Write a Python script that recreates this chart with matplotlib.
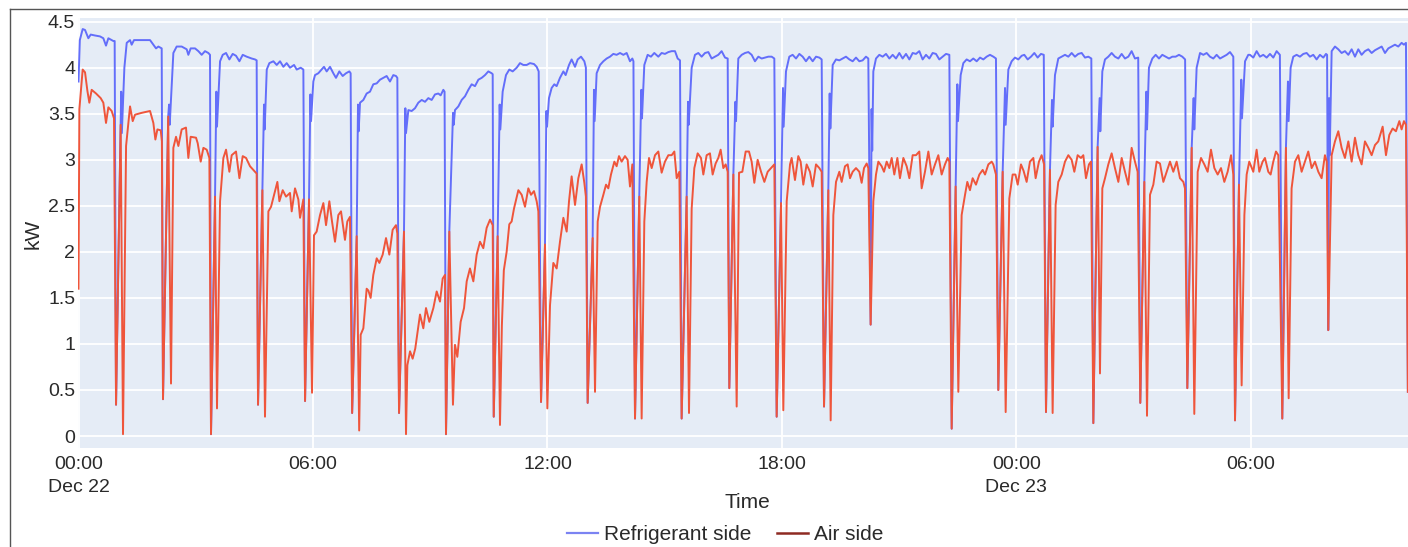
import matplotlib
matplotlib.use("Agg")
import matplotlib.pyplot as plt
from matplotlib.lines import Line2D

plt.rcParams['font.family'] = ['Liberation Sans', 'DejaVu Sans']

# minutes after Dec 22 00:00, kW
ref_pts = [
    (0, 3.85), (2, 4.3), (6.4, 4.42), (10, 4.41), (15.1, 4.32), (18.7, 4.36), (25.3, 4.35), (33, 4.34), (38.1, 4.32), (42.2, 4.24), (45.8, 4.32), (53.5, 4.29), (55.5, 4.29),
    (57.6, 0.34), (64.7, 3.38), (65.5, 3.74), (66.5, 3.29), (70.4, 4.0), (74, 4.27), (79.1, 4.3), (81.6, 4.25), (85.2, 4.3), (109.8, 4.3), (114.9, 4.25), (119, 4.21), (122.6, 4.23), (127.7, 4.21),
    (129.7, 0.4), (137.7, 3.47), (139, 3.6), (140, 3.38), (145.6, 4.16), (150.7, 4.23), (158.4, 4.23), (166.1, 4.2), (168.6, 4.14), (172.2, 4.21), (178.9, 4.21), (184, 4.18), (189.1, 4.14), (194.2, 4.18), (199.3, 4.16), (201.9, 4.14),
    (203.4, 0.02), (209.6, 2.6), (211.6, 3.74), (212.6, 3.36), (217.3, 4.07), (221.4, 4.14), (226.5, 4.16), (231.6, 4.09), (236.7, 4.15), (241.8, 4.13), (247, 4.07), (252.1, 4.14), (258.2, 4.12), (265.9, 4.1), (271, 4.09), (273.5, 4.08),
    (275.6, 0.34), (282.3, 2.67), (284.8, 3.6), (285.8, 3.33), (289, 3.98), (293, 4.05), (299.2, 4.07), (304.3, 4.03), (309.4, 4.07), (314.5, 4.01), (319.6, 4.05), (324.7, 4.0), (330.9, 4.03), (335, 3.98), (341.1, 4.0), (345.2, 3.98),
    (347.8, 0.38), (353.9, 2.57), (356, 3.71), (357, 3.42), (360.5, 3.85), (363.1, 3.92), (368.2, 3.94), (373.3, 3.98), (376.9, 4.01), (381, 3.96), (386.1, 4.01), (391.2, 3.94), (395.3, 3.89), (400.4, 3.96), (405.6, 3.91), (410.7, 3.94), (415.8, 3.96), (417.8, 3.94),
    (420.1, 0.25), (427.1, 2.17), (429.1, 3.6), (430.1, 3.31), (432.2, 3.62), (437.3, 3.65), (442.4, 3.72), (447.5, 3.74), (452.6, 3.82), (457.8, 3.83), (462.9, 3.87), (468, 3.89), (473.1, 3.91), (478.2, 3.85), (483.3, 3.92), (487.4, 3.91), (489.5, 3.89),
    (492.1, 0.25), (499.7, 2.22), (501.8, 3.56), (502.8, 3.29), (506.4, 3.54), (511.5, 3.53), (516.6, 3.56), (521.7, 3.62), (526.9, 3.65), (532, 3.63), (537.1, 3.67), (542.2, 3.65), (547.3, 3.71), (552.4, 3.72), (556, 3.7), (560.1, 3.76), (562, 3.74),
    (564.2, 0.02), (569.3, 2.22), (575, 3.51), (576, 3.38), (578, 3.54), (583.2, 3.58), (588.3, 3.65), (593.4, 3.69), (598.5, 3.76), (603.6, 3.82), (608.7, 3.8), (613.9, 3.87), (619, 3.89), (624.1, 3.92), (629.2, 3.96), (634.3, 3.94), (635.9, 3.93),
    (637.5, 0.21), (643.5, 2.17), (646.6, 3.6), (647.6, 3.33), (651.2, 3.74), (656.3, 3.92), (661.4, 3.98), (666.6, 3.96), (672.7, 4.0), (677.8, 4.05), (682.9, 4.03), (688.1, 4.03), (693.2, 4.05), (699.3, 4.04), (703.4, 4.01), (706.5, 3.96),
    (710.1, 0.37), (716.2, 2.08), (718.3, 3.53), (719.3, 3.36), (722.3, 3.67), (726.4, 3.78), (730.5, 3.82), (734.1, 3.8), (739.2, 3.89), (744.4, 3.96), (747.9, 3.92), (753.1, 4.03), (757.1, 4.09), (762.3, 4.01), (766.4, 4.09), (771.5, 4.12), (776.6, 4.07), (779, 4.0),
    (781.7, 0.36), (789.4, 2.15), (791.4, 3.76), (792.4, 3.42), (795.5, 3.94), (800.7, 4.03), (805.8, 4.07), (810.9, 4.1), (816, 4.12), (821.1, 4.15), (826.2, 4.14), (831.4, 4.16), (836.5, 4.14), (841.6, 4.16), (846.7, 4.07), (850.3, 4.1), (852, 4.07),
    (854.4, 0.19), (861, 2.6), (864.1, 3.76), (865.1, 3.45), (868.7, 4.03), (873.8, 4.14), (878.9, 4.12), (884, 4.16), (890.2, 4.12), (895.3, 4.16), (900.4, 4.15), (905.6, 4.17), (910.7, 4.18), (915.8, 4.18), (919.9, 4.1), (923.5, 4.08),
    (926, 0.19), (933.7, 2.6), (935.8, 3.63), (936.8, 3.38), (941.4, 4.0), (946.5, 4.14), (951.6, 4.16), (956.7, 4.12), (961.9, 4.16), (967, 4.17), (972.1, 4.1), (977.2, 4.12), (982.3, 4.14), (987.4, 4.18), (992.6, 4.11), (996.7, 4.1),
    (999.2, 0.52), (1005.4, 2.84), (1008.5, 3.63), (1009.5, 3.42), (1013, 4.1), (1018.2, 4.14), (1023.3, 4.16), (1028.4, 4.17), (1033.5, 4.14), (1038.6, 4.07), (1043.8, 4.12), (1048.9, 4.1), (1054, 4.11), (1059.1, 4.12), (1064.2, 4.12), (1068.3, 4.1),
    (1071.9, 0.21), (1078.6, 2.53), (1081.6, 3.78), (1082.6, 3.36), (1086.2, 3.96), (1091.3, 4.12), (1096.4, 4.14), (1101.6, 4.1), (1106.7, 4.15), (1111.8, 4.12), (1116.9, 4.07), (1122, 4.12), (1127.2, 4.07), (1132.3, 4.12), (1137.4, 4.11), (1141, 4.09),
    (1144.6, 0.32), (1151.2, 2.67), (1153.3, 3.72), (1154.3, 3.34), (1157.9, 4.03), (1163, 4.09), (1168.1, 4.08), (1173.2, 4.1), (1178.3, 4.12), (1183.5, 4.09), (1188.6, 4.07), (1193.7, 4.11), (1198.8, 4.07), (1203.9, 4.08), (1209, 4.12), (1212.6, 4.1),
    (1216.2, 1.21), (1217.6, 3.55), (1218.6, 3.1), (1220.3, 3.96), (1224.4, 4.1), (1229.5, 4.14), (1234.6, 4.12), (1239.8, 4.15), (1244.9, 4.1), (1250, 4.14), (1255.1, 4.1), (1260.2, 4.16), (1265.3, 4.1), (1270.5, 4.15), (1275.6, 4.09), (1280.7, 4.16), (1285.8, 4.15), (1290.9, 4.18), (1296, 4.09), (1301.2, 4.14), (1306.3, 4.1), (1311.4, 4.16), (1316.5, 4.15), (1321.6, 4.09), (1326.8, 4.12), (1331.9, 4.15), (1337, 4.14),
    (1340.6, 0.08), (1346.7, 2.71), (1349.3, 3.82), (1350.3, 3.42), (1354.4, 3.92), (1358.5, 4.05), (1363.6, 4.09), (1368.7, 4.07), (1373.8, 4.1), (1379, 4.07), (1384.1, 4.11), (1389.2, 4.09), (1394.3, 4.12), (1399.4, 4.14), (1404.6, 4.12), (1408.6, 4.1),
    (1412.2, 0.5), (1418.9, 2.87), (1422.5, 3.78), (1423.5, 3.38), (1427.6, 3.98), (1432.7, 4.07), (1437.8, 4.11), (1442.9, 4.09), (1448.1, 4.13), (1452.1, 4.14), (1457.3, 4.09), (1462.4, 4.12), (1467.5, 4.16), (1472.6, 4.11), (1477.7, 4.15), (1482, 4.14),
    (1485.4, 0.26), (1491.5, 2.89), (1494.6, 3.65), (1495.6, 3.36), (1499.2, 3.92), (1504.3, 4.1), (1509.5, 4.12), (1514.6, 4.14), (1519.7, 4.12), (1524.8, 4.16), (1529.9, 4.12), (1535, 4.15), (1540.2, 4.16), (1545.3, 4.11), (1550.4, 4.12), (1555, 4.1),
    (1558.1, 0.14), (1564.7, 3.14), (1567.8, 3.67), (1568.8, 3.31), (1571.9, 3.96), (1576, 4.09), (1581.1, 4.12), (1586.2, 4.16), (1591.3, 4.12), (1596.5, 4.1), (1601.6, 4.15), (1606.7, 4.1), (1611.8, 4.12), (1616.9, 4.18), (1622, 4.1), (1627, 4.11),
    (1630.2, 0.36), (1636.4, 2.76), (1639.5, 3.74), (1640.5, 3.33), (1643.5, 4.0), (1648.7, 4.1), (1653.8, 4.14), (1658.9, 4.1), (1664, 4.14), (1669.1, 4.12), (1674.3, 4.1), (1679.4, 4.12), (1684.5, 4.12), (1689.6, 4.14), (1694.7, 4.12), (1699, 4.09),
    (1702.4, 0.52), (1709.1, 3.13), (1712.1, 3.67), (1713.1, 3.33), (1716.7, 4.0), (1721.9, 4.16), (1727, 4.14), (1732.1, 4.16), (1737.2, 4.12), (1742.3, 4.1), (1747.4, 4.14), (1752.6, 4.1), (1757.7, 4.12), (1762.8, 4.14), (1767.9, 4.17), (1773, 4.12),
    (1775.6, 0.17), (1781.7, 2.73), (1785.3, 3.87), (1786.3, 3.45), (1791, 4.07), (1796, 4.14), (1798.6, 4.14), (1803.7, 4.11), (1808.8, 4.18), (1813.9, 4.12), (1819, 4.14), (1824.2, 4.11), (1829.3, 4.15), (1834.4, 4.11), (1839.5, 4.18), (1844.5, 4.14),
    (1848.2, 0.19), (1853.8, 3.13), (1856.9, 3.85), (1857.9, 3.42), (1861, 4.0), (1865.1, 4.12), (1870.2, 4.14), (1875.3, 4.12), (1880.5, 4.15), (1885.6, 4.16), (1890.7, 4.12), (1895.8, 4.14), (1900.9, 4.09), (1906, 4.14), (1911.2, 4.11), (1915.3, 4.15), (1917, 4.14),
    (1918.8, 1.15), (1920, 3.67), (1921, 3.05), (1924, 4.18), (1929.1, 4.23), (1934.2, 4.2), (1939.3, 4.16), (1944.4, 4.18), (1949.6, 4.14), (1954.7, 4.2), (1959.8, 4.12), (1964.9, 4.2), (1970, 4.14), (1975.1, 4.18), (1980.3, 4.2), (1985.4, 4.16), (1990.5, 4.19), (1995.6, 4.21), (2000.8, 4.23), (2005.9, 4.16), (2011, 4.21), (2016.1, 4.23), (2021.2, 4.25), (2026.3, 4.23), (2031.4, 4.27), (2035, 4.25), (2038.1, 4.27),
    (2041, 0.48),
]

air_pts = [
    (0, 1.6), (1.3, 3.55), (6.4, 3.98), (10, 3.95), (13.6, 3.75), (16.6, 3.62), (20.2, 3.76), (26.9, 3.72), (34, 3.67), (38.1, 3.62), (42.2, 3.4), (45.8, 3.57), (50.9, 3.53), (54.5, 3.45),
    (57.6, 0.34), (64.7, 3.38), (68.3, 0.02), (73, 3.15), (79.1, 3.58), (83.2, 3.42), (86.8, 3.49), (97, 3.51), (109.8, 3.53), (114.9, 3.4), (118, 3.22), (121.1, 3.33), (126.2, 3.32), (128, 3.2),
    (129.7, 0.4), (137.7, 3.47), (142, 0.57), (145.6, 3.13), (149.7, 3.25), (153.3, 3.15), (158.4, 3.33), (165, 3.35), (168.6, 3.02), (172.2, 3.25), (180.4, 3.24), (183, 3.18), (187.6, 2.98), (191.7, 3.13), (196.8, 3.11), (200.9, 3.02),
    (203.4, 0.02), (209.6, 2.6), (212.6, 0.3), (217.3, 2.55), (222.4, 3.02), (226.5, 3.11), (231.6, 2.87), (235.2, 3.05), (241.8, 3.09), (247, 2.8), (252.1, 3.04), (257.2, 3.02), (263.3, 2.93), (271, 2.87), (273.5, 2.85),
    (275.6, 0.34), (282.3, 2.67), (286.3, 0.21), (291.5, 2.44), (295.6, 2.49), (300.2, 2.62), (305.3, 2.76), (308.4, 2.55), (313.5, 2.67), (318.6, 2.6), (324.7, 2.64), (327.3, 2.44), (332.4, 2.69), (337.5, 2.57), (340.1, 2.37), (345.2, 2.57),
    (347.8, 0.38), (353.9, 2.57), (358.5, 0.47), (361.5, 2.18), (365.6, 2.22), (370.8, 2.4), (375.9, 2.53), (380, 2.29), (385.1, 2.55), (389.2, 2.33), (393.8, 2.11), (398.9, 2.4), (403, 2.44), (409.1, 2.13), (412.7, 2.33), (416.8, 2.38),
    (420.1, 0.25), (427.1, 2.17), (430.9, 0.06), (433.2, 1.1), (437.3, 1.17), (442.4, 1.6), (445, 1.58), (448.5, 1.5), (452.6, 1.75), (457.8, 1.93), (461.9, 1.88), (467, 1.97), (472.1, 2.15), (477.2, 1.97), (482.3, 2.24), (487.4, 2.29), (489.5, 2.2),
    (492.1, 0.25), (499.7, 2.22), (502.8, 0.02), (504.9, 0.77), (509, 0.92), (513, 0.84), (517, 0.95), (524.3, 1.32), (529.4, 1.17), (533.5, 1.39), (538.6, 1.24), (544.8, 1.39), (549.9, 1.57), (555, 1.46), (559.1, 1.71), (562.7, 1.75),
    (564.2, 0.02), (569.3, 2.22), (574.9, 0.34), (578, 0.99), (581.6, 0.86), (586.7, 1.24), (591.9, 1.39), (596, 1.68), (601, 1.82), (606.2, 1.68), (611.3, 1.97), (616.4, 2.11), (621.5, 2.04), (626.6, 2.26), (631.8, 2.35), (635.9, 2.29),
    (637.5, 0.21), (643.5, 2.17), (647.1, 0.12), (650, 1.2), (653, 1.8), (657.3, 2.0), (661.4, 2.3), (665, 2.33), (668.6, 2.47), (675.3, 2.67), (680.4, 2.62), (685.5, 2.49), (690.6, 2.69), (694.7, 2.62), (699.3, 2.66), (703.4, 2.55), (706, 2.44),
    (710.1, 0.37), (716.2, 2.08), (719.8, 0.3), (723.9, 1.42), (729, 1.88), (734.1, 1.82), (739.2, 2.11), (744.4, 2.37), (749.5, 2.22), (753.1, 2.55), (757.1, 2.82), (762.3, 2.51), (767.4, 2.8), (772.5, 2.95), (776.6, 2.75), (779, 2.6),
    (781.7, 0.36), (789.4, 2.15), (793, 0.48), (797.1, 2.33), (800.7, 2.49), (805.8, 2.62), (809.9, 2.73), (813.4, 2.69), (817.5, 2.84), (822.7, 2.98), (826.2, 2.93), (829.8, 3.04), (833.9, 2.98), (839, 3.04), (843.1, 3.0), (846.7, 2.71), (850.3, 2.95),
    (854.4, 0.19), (861, 2.6), (864.6, 0.19), (868.7, 2.33), (872.3, 2.76), (875.9, 3.02), (880, 2.91), (885.1, 3.05), (890.2, 3.09), (895.3, 2.86), (900.4, 2.98), (905.6, 3.05), (910.7, 3.05), (914.8, 3.09), (918.4, 2.8), (922.5, 2.87),
    (926, 0.19), (933.7, 2.6), (937.3, 0.25), (941.4, 2.47), (945.5, 2.91), (950.6, 3.07), (955.7, 3.02), (959.3, 2.84), (964.4, 3.05), (969.5, 3.07), (973.6, 2.84), (978.2, 2.96), (982.3, 3.02), (985.9, 3.11), (990, 2.91), (993.6, 2.95), (996.7, 2.87),
    (999.2, 0.52), (1005.4, 2.84), (1010.5, 0.32), (1014.1, 2.86), (1019.2, 2.87), (1024.3, 3.09), (1029.4, 3.09), (1033.5, 2.98), (1037.6, 2.75), (1042.7, 3.0), (1047.9, 2.87), (1053, 2.76), (1058.1, 2.87), (1063.2, 2.91), (1068.3, 2.95),
    (1071.9, 0.21), (1078.6, 2.53), (1082.1, 0.28), (1087.3, 2.55), (1092.4, 2.95), (1094.9, 3.02), (1100, 2.78), (1105.1, 3.04), (1108.7, 2.98), (1112.8, 2.73), (1117.9, 2.95), (1123, 2.87), (1127.2, 2.71), (1132.3, 2.95), (1137.4, 2.91), (1141, 2.87),
    (1144.6, 0.32), (1151.2, 2.67), (1154.8, 0.17), (1158.9, 2.4), (1163, 2.76), (1168.1, 2.87), (1171.7, 2.76), (1176.8, 2.93), (1180.9, 2.95), (1184.5, 2.8), (1188.6, 2.87), (1193.7, 2.91), (1198.8, 2.87), (1202.4, 2.75), (1206, 2.91), (1210.1, 2.96), (1212.6, 2.91),
    (1216.2, 1.21), (1220.3, 2.55), (1224.4, 2.84), (1228, 2.98), (1233.1, 2.93), (1236.7, 2.87), (1240.8, 2.98), (1244.9, 2.91), (1248.5, 3.02), (1252.5, 2.84), (1257.2, 3.02), (1261.2, 2.8), (1266.4, 3.02), (1271.5, 2.93), (1275.6, 2.8), (1280.7, 3.05), (1285.8, 3.05), (1290.9, 3.09), (1294.5, 2.69), (1299.6, 2.87), (1304.8, 3.09), (1309.9, 2.84), (1315, 2.95), (1320.1, 3.05), (1325.2, 2.84), (1330.3, 2.95), (1334.4, 3.02), (1337, 2.98),
    (1340.6, 0.08), (1346.7, 2.71), (1350.8, 0.48), (1355.9, 2.4), (1361.1, 2.62), (1364.6, 2.76), (1368.7, 2.67), (1372.8, 2.8), (1377.9, 2.73), (1383.1, 2.84), (1388.2, 2.89), (1391.8, 2.84), (1396.9, 2.95), (1402, 2.98), (1404.5, 2.95), (1408.6, 2.84),
    (1412.2, 0.5), (1418.9, 2.87), (1423.5, 0.26), (1429.1, 2.58), (1434.2, 2.84), (1438.5, 2.84), (1442, 2.73), (1447, 2.95), (1451, 2.88), (1455.7, 2.76), (1460.8, 2.98), (1466, 3.02), (1469.5, 2.8), (1474.6, 2.98), (1478.7, 3.05), (1482.5, 2.95),
    (1485.4, 0.26), (1491.5, 2.89), (1495.6, 0.25), (1500.2, 2.51), (1504.3, 2.76), (1509.5, 2.84), (1514.6, 2.98), (1519.7, 3.05), (1524.8, 3.0), (1528.9, 2.87), (1534, 3.05), (1539.1, 3.02), (1542.7, 3.05), (1546.8, 2.8), (1551.4, 2.95), (1554.5, 2.98),
    (1558.1, 0.14), (1564.7, 3.14), (1568.3, 0.68), (1571.9, 2.69), (1576, 2.8), (1581.1, 2.95), (1586.2, 3.07), (1591.3, 2.91), (1596.5, 2.76), (1601.6, 3.02), (1606.7, 2.87), (1611.8, 2.73), (1616.9, 3.13), (1622, 2.98), (1626.1, 2.87),
    (1630.2, 0.36), (1636.4, 2.76), (1640.5, 0.22), (1645.1, 2.62), (1650.2, 2.73), (1655.3, 2.98), (1660.4, 2.96), (1665.6, 2.76), (1670.7, 2.87), (1675.8, 2.98), (1680.9, 2.87), (1686, 2.98), (1691.1, 2.8), (1696.3, 2.76), (1698.8, 2.69),
    (1702.4, 0.52), (1709.1, 3.13), (1713.1, 0.24), (1718.3, 2.87), (1723.4, 3.02), (1728.5, 2.95), (1733.6, 2.87), (1738.7, 3.11), (1743.9, 2.91), (1749, 2.84), (1754.1, 2.91), (1759.2, 2.76), (1764.3, 2.87), (1769.5, 3.05), (1773, 2.84),
    (1775.6, 0.17), (1781.7, 2.73), (1785.8, 0.55), (1790, 2.4), (1793.5, 2.84), (1797.5, 2.98), (1803.7, 2.87), (1808.8, 3.11), (1812.9, 2.87), (1818, 2.98), (1821.6, 3.02), (1826.7, 2.87), (1830.3, 2.84), (1834.4, 2.98), (1838.5, 3.09), (1842.1, 3.05),
    (1848.2, 0.19), (1853.8, 3.13), (1858, 0.41), (1862.5, 2.69), (1867.7, 2.98), (1872.8, 3.05), (1877.9, 2.87), (1883, 2.98), (1888.1, 3.09), (1893.3, 2.91), (1898.4, 2.98), (1903.5, 2.87), (1908.6, 2.8), (1913.7, 3.05), (1916.5, 2.98),
    (1918.8, 1.15), (1924, 3.05), (1929.1, 3.2), (1934.2, 3.31), (1939.3, 3.13), (1944.4, 3.02), (1949.6, 3.2), (1954.7, 2.98), (1959.8, 3.24), (1964.9, 3.05), (1970, 2.95), (1975.1, 3.2), (1980.3, 3.13), (1985.4, 3.05), (1990.5, 3.16), (1995.6, 3.2), (2002.3, 3.36), (2007.4, 3.05), (2012.5, 3.27), (2017.6, 3.34), (2022.7, 3.31), (2027.9, 3.42), (2031.4, 3.33), (2035, 3.42), (2038.1, 3.38),
    (2041, 0.48),
]

tick_min = [0, 360, 720, 1080, 1440, 1800]
tick_labels = ['00:00\nDec 22', '06:00', '12:00', '18:00', '00:00\nDec 23', '06:00']
kw_ticks = [0, 0.5, 1, 1.5, 2, 2.5, 3, 3.5, 4, 4.5]
kw_labels = ['0', '0.5', '1', '1.5', '2', '2.5', '3', '3.5', '4', '4.5']

ref_t, ref_kw = zip(*ref_pts)
air_t, air_kw = zip(*air_pts)

W, H = 1408, 547
fig = plt.figure(figsize=(W / 100, H / 100), dpi=100)
ax = fig.add_axes([78 / W, 1 - 448 / H, 1338 / W, 430 / H])
ax.set_facecolor('#E5ECF6')

ax.plot(ref_t, ref_kw, color='#636EFA', lw=1.4, zorder=3)
ax.plot(air_t, air_kw, color='#EF553B', lw=1.4, zorder=4)

ax.set_xlim(-0.8, 2053.5)
ax.set_ylim(-0.13, 4.54)
ax.set_xticks(tick_min)
ax.set_xticklabels(tick_labels, fontsize=14, linespacing=1.45)
ax.set_yticks(kw_ticks)
ax.set_yticklabels(kw_labels, fontsize=14)
ax.tick_params(axis='both', length=0, colors='#2a2a2a')
ax.tick_params(axis='x', pad=6)
ax.tick_params(axis='y', pad=2)
ax.grid(True, color='white', lw=1.3)
ax.set_axisbelow(True)
for s in ax.spines.values():
    s.set_visible(False)

fig.text(33 / W, 1 - 234 / H, 'kW', rotation=90, ha='center', va='center', fontsize=15, color='#2a2a2a')
fig.text(747 / W, 1 - 503 / H, 'Time', ha='center', va='center', fontsize=15, color='#2a2a2a')

handles = [Line2D([], [], color='#7B83F2', lw=1.6), Line2D([], [], color='#8E2A22', lw=1.8)]
fig.legend(handles, ['Refrigerant side', 'Air side'], loc='center', bbox_to_anchor=(725 / W, 1 - 535 / H),
           ncol=2, frameon=False, fontsize=15, handlelength=1.5, handletextpad=0.3, columnspacing=1.2,
           labelcolor='#2a2a2a')

# thin frame around the screenshot
fig.add_artist(Line2D([10 / W, 1], [1 - 8.5 / H, 1 - 8.5 / H], color='#555555', lw=1.0))
fig.add_artist(Line2D([10 / W, 10 / W], [0, 1 - 8.5 / H], color='#555555', lw=1.0))

fig.savefig('out.png', dpi=100)
